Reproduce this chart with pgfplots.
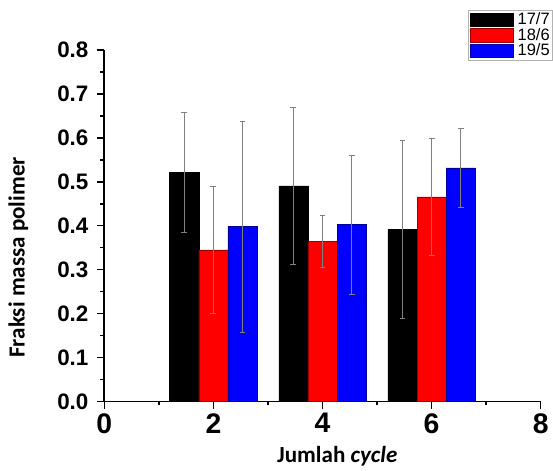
\documentclass[border=0pt]{standalone}
\usepackage{pgfplots}
\pgfplotsset{compat=1.18}
\usepackage{fontspec}
\setmainfont{Liberation Sans}
\setsansfont{Liberation Sans}
\newfontfamily\calib{Carlito}

% one pixel of the reference = 0.75pt
\begin{document}
\begin{tikzpicture}[x=1pt,y=1pt]
\begin{axis}[
  scale only axis, width=331.1pt, height=266.5pt,
  xmin=0, xmax=8, ymin=0, ymax=0.8,
  axis x line*=bottom, axis y line*=left,
  axis line style={line width=1.3pt},
  every tick/.style={black, line width=1.1pt},
  tick align=outside,
  major tick length=5.5pt, minor tick length=3pt,
  xtick={0,2,4,6,8}, minor xtick={1,3,5,7},
  ytick={0,0.1,...,0.8}, minor ytick={0.05,0.15,...,0.75},
  /pgf/number format/assume math mode=true,
  yticklabel style={font=\fontsize{17}{17}\selectfont\bfseries, xshift=-3pt,
    /pgf/number format/.cd, fixed, fixed zerofill, precision=1},
  xticklabel style={font=\fontsize{21.5}{21.5}\selectfont\bfseries},
  ylabel={\calib\bfseries Fraksi massa polimer},
  xlabel={\calib\bfseries Jumlah \textit{cycle}},
  every axis y label/.style={at={(rel axis cs:-0.197,0.41)}, rotate=90, anchor=center,
    font=\fontsize{17.5}{17.5}\selectfont},
  every axis x label/.style={at={(rel axis cs:0.534,-0.155)}, anchor=center,
    font=\fontsize{17.5}{17.5}\selectfont},
  ybar=0pt, bar width=22.1pt,
  legend style={at={(rel axis cs:0.833,1.113)}, anchor=north west,
    draw=gray!60, line width=0.4pt, inner sep=1.2pt, row sep=0pt,
    font=\fontsize{12.5}{12.5}\selectfont,
    nodes={inner sep=0.6pt},
    /tikz/every odd column/.append style={column sep=3pt}},
  legend cell align=left,
  legend image code/.code={\fill[#1] (0pt,-4.8pt) rectangle (32.5pt,5.2pt);},
  error bars/error bar style={gray, line width=0.4pt},
  error bars/error mark options={gray, line width=0.4pt, mark size=2.2pt, rotate=90},
]
\addplot[fill=black, draw=black, line width=0.3pt,
  error bars/.cd, y dir=both, y explicit]
  coordinates {(2,0.522) +- (0,0.136) (4,0.491) +- (0,0.178) (6,0.392) +- (0,0.203)};
\addplot[fill=red, draw=red!60!black, line width=0.3pt,
  error bars/.cd, y dir=both, y explicit]
  coordinates {(2,0.345) +- (0,0.144) (4,0.365) +- (0,0.060) (6,0.466) +- (0,0.134)};
\addplot[fill=blue, draw=blue!60!black, line width=0.3pt,
  error bars/.cd, y dir=both, y explicit]
  coordinates {(2,0.398) +- (0,0.241) (4,0.403) +- (0,0.158) (6,0.532) +- (0,0.091)};
\legend{17/7, 18/6, 19/5}
\end{axis}
\useasboundingbox (-79.1pt,-49.5pt) rectangle (335.6pt,304.5pt);
\end{tikzpicture}
\end{document}
